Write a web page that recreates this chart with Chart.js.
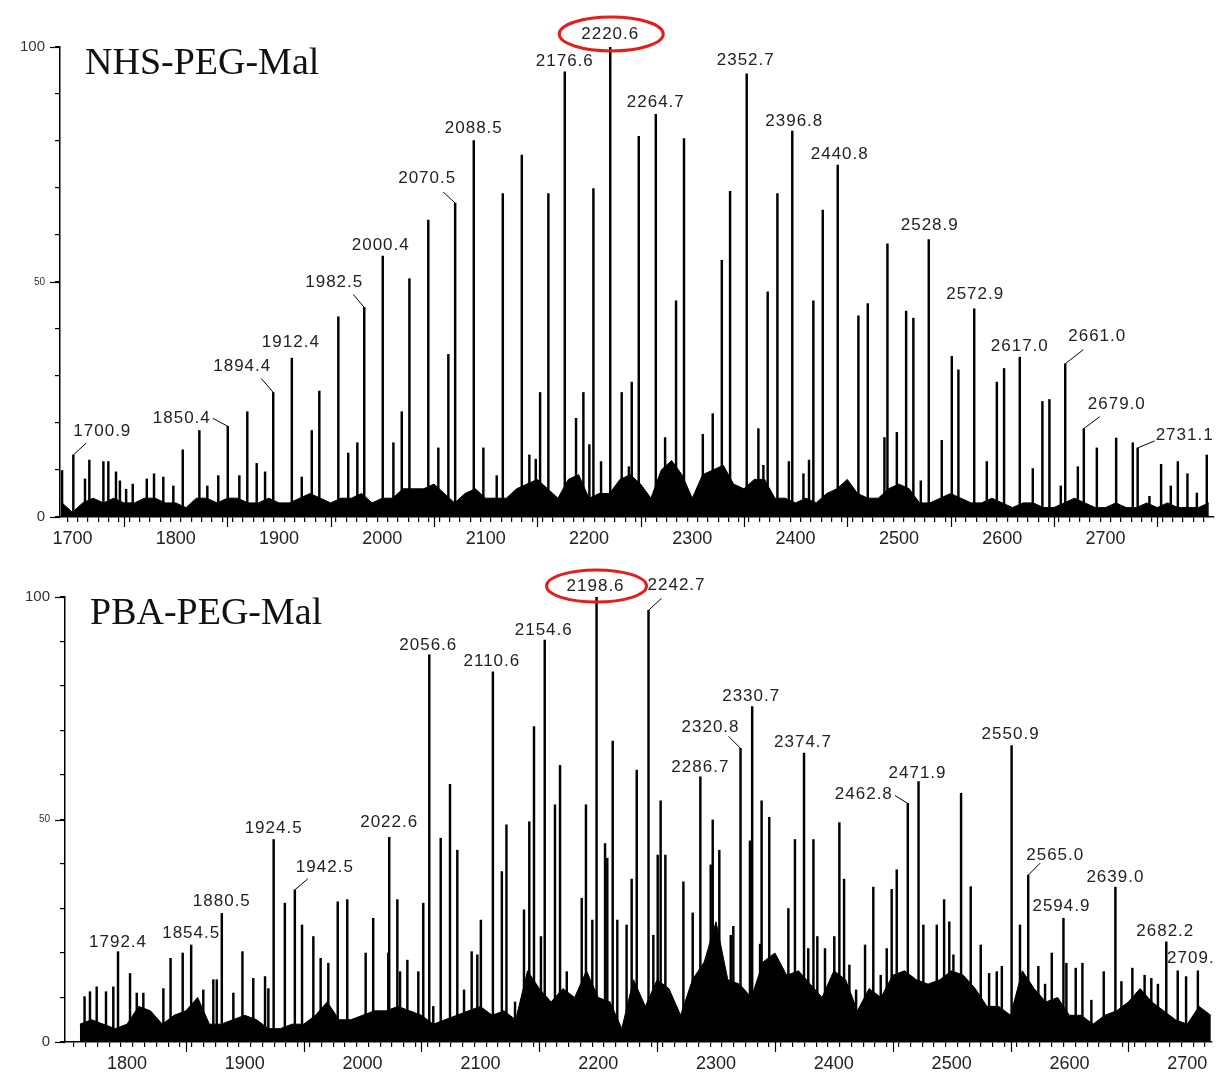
<!DOCTYPE html>
<html>
<head>
<meta charset="utf-8">
<title>NHS-PEG-Mal / PBA-PEG-Mal</title>
<script src="https://cdn.jsdelivr.net/npm/chart.js@4.4.1/dist/chart.umd.min.js"></script>
<style>
  html, body { margin: 0; padding: 0; background: #fff; }
  #wrap { position: relative; width: 1216px; height: 1077px; overflow: hidden; }
  #topChart { position: absolute; left: 0; top: 0; }
  #botChart { position: absolute; left: 0; top: 560px; }
</style>
</head>
<body>
<div id="wrap">
  <canvas id="topChart" width="1216" height="560"></canvas>
  <canvas id="botChart" width="1216" height="517"></canvas>
</div>
<script>
/* ---- NHS-PEG-Mal (top) ---- */
const nhsPeakMz = [1690, 1712.2, 1716.4, 1730, 1734.8, 1742.2, 1746, 1752, 1758.4, 1772,
  1779, 1788, 1797.7, 1806.8, 1822.9, 1830.6, 1841.2, 1861.6, 1869.3, 1878.4,
  1886.5, 1922, 1931.7, 1939, 1957.4, 1967, 1975.8, 2010.7, 2018.8, 2026.2,
  2044.5, 2063.9, 2097.8, 2116.6, 2135, 2142.3, 2152.7, 2160.7, 2187.5, 2194.6,
  2200.4, 2204.3, 2231.7, 2241.4, 2248.2, 2284.3, 2292, 2310.2, 2319.8, 2328.6,
  2336.6, 2364, 2373, 2382.4, 2407.6, 2413, 2417.2, 2426.3, 2460.8, 2469.9,
  2486, 2488.9, 2498, 2507, 2514, 2521.2, 2541.5, 2551.2, 2557.6, 2585.1,
  2594.8, 2601.8, 2629.6, 2638.9, 2645.7, 2656.7, 2673.2, 2691.6, 2710.3, 2726.4,
  2742.5, 2753.8, 2763.2, 2770, 2779.3, 2788.4, 2798,
  2054.2, 2211.7, 2273.7, 2368.8, 2110.7, 2238.6, 2393.5, 2148.5];
const nhsPeakInt = [9.9, 8.1, 12.1, 11.8, 11.8, 9.6, 7.7, 5.9, 7.0, 8.1,
  9.2, 8.5, 6.6, 14.3, 18.4, 6.6, 8.8, 8.8, 22.4, 11.4,
  9.6, 8.5, 18.4, 26.8, 42.6, 13.6, 15.8, 15.8, 22.4, 50.7,
  63.2, 34.6, 14.7, 68.8, 77.0, 13.2, 26.5, 68.8, 21.0, 26.5,
  15.4, 69.9, 26.5, 28.7, 81.0, 46.0, 80.5, 17.6, 22.0, 54.6,
  69.3, 18.8, 47.9, 68.8, 9.2, 12.1, 46.0, 65.3, 42.8, 45.4,
  16.9, 58.1, 18.0, 43.8, 42.3, 7.7, 16.3, 34.2, 31.3, 11.8,
  28.7, 31.6, 10.3, 24.6, 25.0, 6.6, 10.7, 14.7, 16.8, 15.8,
  4.4, 11.2, 6.6, 11.8, 9.2, 5.1, 13.2,
  14.7, 11.8, 16.9, 11.0, 8.8, 10.7, 11.8, 12.3];
const nhsLabels = ['1700.9', '1850.4', '1894.4', '1912.4', '1982.5', '2000.4', '2070.5',
  '2088.5', '2176.6', '2220.6', '2264.7', '2352.7', '2396.8', '2440.8', '2528.9',
  '2572.9', '2617.0', '2661.0', '2679.0', '2731.1'];
const nhsLabelInt = [13.2, 19.3, 26.5, 33.8, 44.6, 55.5, 66.8, 80.1, 94.7, 100,
  85.7, 94.3, 82.1, 74.9, 59.0, 44.3, 34.0, 32.6, 18.8, 14.7];
// baseline noise, every 10 m/z from 1690
const nhsFloorStart = 1690;
const nhsFloor = [3, 1, 3, 4, 3, 4, 3, 3, 4, 4, 3, 3, 2, 4, 4, 3, 4, 4, 3, 3,
  4, 3, 3, 4, 5, 4, 3, 4, 4, 5, 3,
  4, 4, 6, 6, 6, 7, 5, 3, 5, 6, 4, 4, 4, 6, 7, 8, 6, 4, 8, 9,
  4, 5, 5, 8, 9, 7, 4, 10, 12, 9, 4, 9, 10, 11, 7, 6, 8, 8, 4, 4,
  3, 4, 3, 5, 6, 8, 5, 4, 4,
  6, 7, 6, 3, 3, 4, 5, 4, 3, 3, 4, 3, 2, 3, 3, 2, 2, 3, 4, 3,
  2, 2, 3, 2, 2, 3, 2, 3, 2, 2, 2, 3];

/* ---- PBA-PEG-Mal (bottom) ---- */
const pbaPeakMz = [1764, 1768.6, 1774.3, 1782.2, 1788.4, 1802.6, 1808.3, 1813.9, 1830.9, 1837,
  1847.3, 1864.8, 1873.3, 1876.2, 1890.3, 1898, 1907.2, 1917.2, 1920, 1934,
  1948.6, 1958.2, 1964.4, 1970.9, 1978.9, 1987, 2002.6, 2009, 2021.8, 2029.5,
  2031.8, 2038, 2047.3, 2051.5, 2060, 2066.3, 2074.2, 2080.4, 2086.1, 2092.6,
  2097.4, 2100.4, 2118.2, 2122.1, 2129.4, 2137, 2141.5, 2145.5, 2151.4, 2163.3,
  2167.6, 2173.3, 2186, 2189.6, 2195, 2205.8, 2207.7, 2212.3, 2216.2, 2224.1,
  2228.4, 2232.7, 2246.8, 2250.5, 2253, 2257, 2272.3, 2280.2, 2295.5, 2297.2,
  2302.8, 2312.5, 2314.7, 2328.8, 2337.4, 2338.7, 2345.2, 2361.4, 2367, 2378.3,
  2382.7, 2386, 2392.5, 2400.4, 2404.7, 2408.7, 2413.2, 2418.9, 2426.5, 2433.5,
  2439.8, 2444.9, 2449.1, 2453.4, 2476, 2487.4, 2493.6, 2498, 2501.5, 2508,
  2516.2, 2524.7, 2531.8, 2538.3, 2542.6, 2558, 2573.6, 2579.3, 2585, 2597.4,
  2605.3, 2611, 2618.6, 2629.1, 2644.1, 2653.4, 2663.8, 2669.5, 2675.1, 2691.9,
  2699];
const pbaPeakInt = [10.2, 11.3, 12.4, 11.3, 12.4, 15.4, 11.0, 11.0, 12.0, 18.8,
  20.0, 11.7, 14.0, 14.0, 11.0, 20.3, 14.3, 14.7, 12.0, 31.2,
  26.3, 23.7, 18.8, 17.7, 31.5, 32.0, 20.0, 27.8, 20.0, 32.0,
  15.8, 18.4, 15.8, 31.2, 8.0, 45.8, 57.9, 43.1, 11.7, 20.3,
  19.6, 27.4, 38.3, 48.8, 9.0, 29.7, 49.5, 70.9, 23.7, 53.3,
  62.2, 15.8, 32.3, 53.3, 27.4, 44.6, 41.3, 67.6, 27.4, 26.3,
  36.6, 61.1, 24.0, 42.0, 54.2, 42.0, 36.0, 29.0, 39.8, 49.9,
  43.1, 24.0, 26.0, 45.2, 22.0, 54.2, 50.5, 30.0, 45.5, 21.0,
  45.5, 23.7, 21.0, 23.7, 49.3, 36.6, 17.3, 11.7, 21.8, 34.8,
  15.0, 21.0, 34.3, 38.7, 26.3, 26.3, 32.0, 27.0, 19.6, 55.9,
  34.9, 21.8, 15.4, 15.8, 17.0, 26.3, 17.0, 13.0, 20.0, 17.7,
  16.6, 17.7, 9.4, 15.8, 13.6, 16.6, 15.0, 14.3, 13.0, 16.0,
  14.7];
const pbaLabels = ['1792.4', '1854.5', '1880.5', '1924.5', '1942.5', '2022.6', '2056.6',
  '2110.6', '2154.6', '2198.6', '2242.7', '2286.7', '2320.8', '2330.7', '2374.7',
  '2462.8', '2471.9', '2550.9', '2565.0', '2594.9', '2639.0', '2682.2', '2709.'];
const pbaLabelInt = [20.3, 21.8, 28.9, 45.5, 34.2, 46.0, 87.0, 83.2, 90.3, 100,
  97.0, 59.6, 66.0, 75.4, 64.9, 53.6, 58.5, 66.6, 37.5, 27.8, 34.8, 22.5, 16.0];
const pbaFloorStart = 1760;
const pbaFloor = [4, 5, 4, 3, 4, 8, 7, 4, 6, 7, 10, 4, 4, 5, 6, 5, 3, 3, 4, 4,
  6, 9, 5, 5, 6, 7, 7, 8, 7, 6, 4, 5, 6, 7, 8, 6, 7, 5, 16, 12,
  9, 12, 10, 16, 10, 9, 3, 14, 8, 14, 12, 6, 14, 18, 27, 14, 13, 10, 18, 20,
  15, 16, 13, 10, 16, 14, 7, 12, 10, 15, 16, 14, 13, 14, 16, 15, 12, 8, 8, 6,
  16, 12, 9, 10, 6, 6, 4, 6, 7, 9, 12, 9, 7, 5, 4, 8, 6];

// label placement: [dx, dy] of text centre from the peak top, optional leader end [lx, ly]
const nhsLabelPos = [[29, -24, 13, -12], [-46, -8, -15, -8], [-31, -26, -12, -14], [-1, -16],
  [-30, -25, -11, -13], [-2, -11], [-28, -25, -12, -11], [0, -12], [0, -11], [0, -13],
  [0, -12], [-1, -13], [2, -10], [2, -11], [1, -14], [1, -14], [0, -11],
  [32, -27, 18, -14], [33, -24, 16, -12], [47, -13, 17, -7]];
const pbaLabelPos = [[0, -9], [0, -12], [0, -12], [0, -11], [30, -22, 13, -11], [0, -15],
  [-1, -10], [-1, -10], [-1, -10], [-1, -11], [28, -25, 13, -12], [0, -9],
  [-30, -21, -12, -12], [-1, -10], [-1, -11], [-44, -9, -13, -8], [-1, -8], [-1, -11],
  [27, -20, 12, -12], [-2, -12], [0, -10], [-1, -11], [-7, -12]];

const peakDecor = {
  id: 'peakDecor',
  afterDatasetsDraw(chart, args, o) {
    const { ctx, chartArea, scales: { x, y } } = chart;
    ctx.save();
    // longer ticks
    ctx.strokeStyle = '#000';
    ctx.lineWidth = 1.2;
    x.ticks.forEach(t => {
      if (t.value % 100 === 50) {
        const px = Math.round(x.getPixelForValue(t.value)) + 0.5;
        ctx.beginPath(); ctx.moveTo(px, chartArea.bottom); ctx.lineTo(px, chartArea.bottom + 10); ctx.stroke();
      }
    });
    [0, 50, 100].forEach(v => {
      const py = Math.round(y.getPixelForValue(v)) + 0.5;
      ctx.beginPath(); ctx.moveTo(chartArea.left - 10, py); ctx.lineTo(chartArea.left, py); ctx.stroke();
    });
    // title
    ctx.fillStyle = '#111';
    ctx.font = '38px "Liberation Serif", "Times New Roman", serif';
    ctx.textAlign = 'left';
    ctx.textBaseline = 'alphabetic';
    ctx.fillText(o.title, chartArea.left + 25, chartArea.top + 27);
    // peak labels
    ctx.font = '17px "Liberation Sans", Arial, sans-serif';
    ctx.letterSpacing = '1px';
    ctx.textAlign = 'center';
    ctx.textBaseline = 'middle';
    ctx.fillStyle = '#222';
    o.labels.forEach((txt, i) => {
      const px = x.getPixelForValue(parseFloat(txt));
      const py = y.getPixelForValue(o.heights[i]);
      const p = o.pos[i];
      if (p.length > 2) {
        ctx.lineWidth = 1;
        ctx.beginPath(); ctx.moveTo(px, py); ctx.lineTo(px + p[2], py + p[3]); ctx.stroke();
      }
      const tx = px + p[0], ty = py + p[1];
      ctx.fillText(txt, tx, ty);
      if (o.circled.includes(txt)) {
        ctx.save();
        ctx.strokeStyle = '#e0201c';
        ctx.lineWidth = 3;
        ctx.beginPath();
        ctx.ellipse(tx + 1, ty, o.ring[0], o.ring[1], 0, 0, Math.PI * 2);
        ctx.stroke();
        ctx.restore();
      }
    });
    ctx.restore();
  }
};

function makeSpectrum(canvasId, cfg) {
  const sticks = cfg.peakMz.map((m, i) => ({ x: m, y: cfg.peakInt[i] }))
    .concat(cfg.labels.map((t, i) => ({ x: parseFloat(t), y: cfg.labelInt[i] })));
  const floor = cfg.floor.map((v, i) => ({ x: cfg.floorStart + i * 10, y: v }));
  const tickFont = { family: '"Liberation Sans", Arial, sans-serif', size: 18 };
  return new Chart(document.getElementById(canvasId), {
    type: 'bar',
    data: {
      datasets: [
        {
          type: 'line',
          data: floor,
          borderColor: '#000',
          borderWidth: 1,
          backgroundColor: '#000',
          fill: 'origin',
          pointRadius: 0,
          tension: 0
        },
        {
          type: 'bar',
          data: sticks,
          backgroundColor: '#000',
          barThickness: 1.8,
          borderWidth: 0
        }
      ]
    },
    options: {
      responsive: false,
      animation: false,
      events: [],
      layout: { padding: cfg.padding },
      plugins: {
        legend: { display: false },
        tooltip: { enabled: false },
        peakDecor: {
          title: cfg.title,
          labels: cfg.labels,
          heights: cfg.labelInt,
          pos: cfg.labelPos,
          circled: cfg.circled,
          ring: cfg.ring
        }
      },
      scales: {
        x: {
          type: 'linear',
          min: cfg.xMin,
          max: cfg.xMax,
          offset: false,
          border: { color: '#000', width: 1.5 },
          grid: { display: true, drawOnChartArea: false, color: '#000', lineWidth: 1.2, tickLength: 5 },
          ticks: {
            stepSize: 10,
            autoSkip: false,
            maxRotation: 0,
            padding: 6,
            color: '#222',
            font: tickFont,
            callback: v => (v % 100 === 0 ? String(v) : '')
          },
          afterBuildTicks: s => { s.ticks = s.ticks.filter(t => t.value % 10 === 0); },
          afterFit: s => { s.height = cfg.xAxisHeight; s.paddingLeft = 0; s.paddingRight = 0; }
        },
        y: {
          min: 0,
          max: 100,
          border: { color: '#000', width: 1.5 },
          grid: { display: true, drawOnChartArea: false, color: '#000', lineWidth: 1.2, tickLength: 5 },
          ticks: {
            stepSize: 10,
            padding: 10,
            color: '#333',
            font: c => ({ family: '"Liberation Sans", Arial, sans-serif', size: c.tick && c.tick.value === 50 ? 10 : 15 }),
            callback: v => (v === 0 || v === 50 || v === 100 ? String(v) : '')
          },
          afterFit: s => { s.width = cfg.yAxisWidth; }
        }
      }
    },
    plugins: [peakDecor]
  });
}

makeSpectrum('topChart', {
  title: 'NHS-PEG-Mal',
  peakMz: nhsPeakMz, peakInt: nhsPeakInt,
  labels: nhsLabels, labelInt: nhsLabelInt, labelPos: nhsLabelPos,
  floor: nhsFloor, floorStart: nhsFloorStart,
  circled: ['2220.6'], ring: [52, 17],
  xMin: 1688, xMax: 2805,
  padding: { left: 0, top: 47, right: 2, bottom: 0 },
  yAxisWidth: 60, xAxisHeight: 43
});

makeSpectrum('botChart', {
  title: 'PBA-PEG-Mal',
  peakMz: pbaPeakMz, peakInt: pbaPeakInt,
  labels: pbaLabels, labelInt: pbaLabelInt, labelPos: pbaLabelPos,
  floor: pbaFloor, floorStart: pbaFloorStart,
  circled: ['2198.6'], ring: [50, 16],
  xMin: 1747.4, xMax: 2721,
  padding: { left: 0, top: 37, right: 4, bottom: 0 },
  yAxisWidth: 65, xAxisHeight: 35
});
</script>
</body>
</html>
